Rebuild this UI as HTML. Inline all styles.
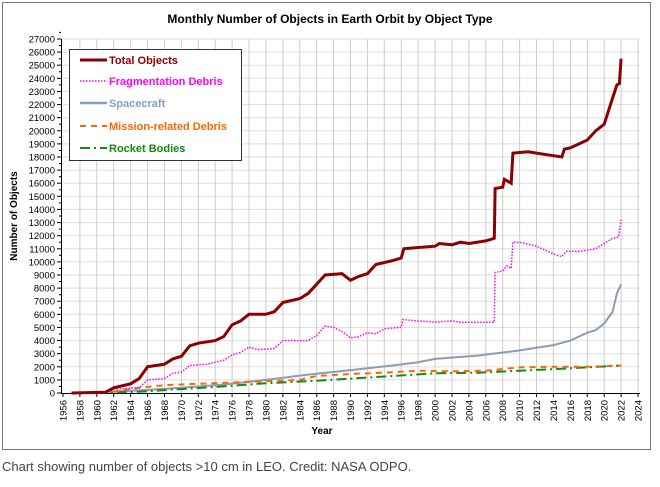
<!DOCTYPE html>
<html><head><meta charset="utf-8"><style>
body{margin:0;background:#fff;width:660px;height:482px;overflow:hidden;font-family:"Liberation Sans",Arial,sans-serif}
</style></head><body>
<svg id="s" width="660" height="482" xmlns="http://www.w3.org/2000/svg" font-family="Liberation Sans, Arial, sans-serif">
<rect x="2.5" y="2.5" width="648" height="447" fill="#fff" stroke="#777" stroke-width="1"/>
<text x="330" y="23" text-anchor="middle" font-size="12" font-weight="bold">Monthly Number of Objects in Earth Orbit by Object Type</text>
<g id="grid"></g>
<g id="series"></g>
<text x="322" y="434" text-anchor="middle" font-size="10" font-weight="bold">Year</text>
<text transform="translate(17,216) rotate(-90)" text-anchor="middle" font-size="10" font-weight="bold">Number of Objects</text>
<rect x="69.5" y="49.5" width="172" height="111" fill="#fff" stroke="#333"/>
<line x1="80" y1="60" x2="107" y2="60" stroke="#8b0000" stroke-width="3"/>
<text x="109" y="64" font-size="11" font-weight="bold" fill="#8b0000">Total Objects</text>
<line x1="80" y1="81" x2="107" y2="81" stroke="#ff00ff" stroke-width="1.5" stroke-dasharray="1.5,1.5"/>
<text x="109" y="85" font-size="11" font-weight="bold" fill="#ff00ff">Fragmentation Debris</text>
<line x1="80" y1="103" x2="107" y2="103" stroke="#8c9cb8" stroke-width="2.5"/>
<text x="109" y="107" font-size="11" font-weight="bold" fill="#8c9cb8">Spacecraft</text>
<line x1="80" y1="126" x2="107" y2="126" stroke="#ff6600" stroke-width="2" stroke-dasharray="6,5"/>
<text x="109" y="130" font-size="11" font-weight="bold" fill="#ff6600">Mission-related Debris</text>
<line x1="80" y1="148" x2="107" y2="148" stroke="#138a13" stroke-width="2" stroke-dasharray="10,4,2,4"/>
<text x="109" y="152" font-size="11" font-weight="bold" fill="#138a13">Rocket Bodies</text>
<text x="2" y="471" font-size="13" fill="#444">Chart showing number of objects &gt;10 cm in LEO. Credit: NASA ODPO.</text>
</svg>
<script>
var NS="http://www.w3.org/2000/svg";
function X(y){return 63+(y-1956)*575/68}
function Y(v){return 393-v*354/27000}
var g=document.getElementById('grid'),h='';
for(var v=0;v<=27000;v+=1000){var y=Y(v).toFixed(1);
 if(v>0)h+='<line x1="61" x2="640" y1="'+y+'" y2="'+y+'" stroke="#ddd"/>';
 h+='<line x1="57" x2="61" y1="'+y+'" y2="'+y+'" stroke="#000"/>';
 h+='<line x1="59" x2="61" y1="'+Y(v+500).toFixed(1)+'" y2="'+Y(v+500).toFixed(1)+'" stroke="#000"/>';
 h+='<text x="55" y="'+(Y(v)+3.5)+'" text-anchor="end" font-size="9.5">'+v+'</text>';}
for(var yr=1956;yr<=2024;yr+=2){var x=X(yr).toFixed(1);
 if(yr>1956)h+='<line x1="'+x+'" x2="'+x+'" y1="39" y2="393" stroke="#ccc"/>';
 h+='<line x1="'+x+'" x2="'+x+'" y1="393" y2="397" stroke="#000"/>';
 h+='<text transform="translate('+(X(yr)+3.5)+',400) rotate(-90)" text-anchor="end" font-size="9.5">'+yr+'</text>';}
h+='<line x1="61.5" x2="61.5" y1="39" y2="393" stroke="#000"/><line x1="61" x2="640" y1="393.5" y2="393.5" stroke="#000"/>';
g.innerHTML=h;
function P(d){return d.map(function(p,i){return (i?'L':'M')+X(p[0]).toFixed(1)+' '+Y(p[1]).toFixed(1)}).join(' ')}
var tot=[[1957,0],[1961,50],[1962,400],[1964,700],[1965,1100],[1966,2000],[1968,2200],[1969,2600],[1970,2800],[1971,3600],[1972,3800],[1974,4000],[1975,4300],[1976,5200],[1977,5500],[1978,6000],[1980,6000],[1981,6200],[1982,6900],[1984,7200],[1985,7600],[1986,8300],[1987,9000],[1989,9100],[1990,8600],[1991,8900],[1992,9100],[1993,9800],[1995,10100],[1996,10300],[1996.3,11000],[1998,11100],[2000,11200],[2000.5,11400],[2002,11300],[2003,11500],[2004,11400],[2006,11600],[2007,11800],[2007.1,15600],[2008,15700],[2008.2,16300],[2009,16000],[2009.2,18300],[2011,18400],[2012,18300],[2014,18100],[2015,18000],[2015.3,18600],[2016,18700],[2018,19300],[2019,20000],[2020,20500],[2020.5,21500],[2021,22500],[2021.5,23500],[2021.8,23600],[2022,25500]];
var fr=[[1961,0],[1962,300],[1965,400],[1966,1000],[1968,1100],[1969,1500],[1970,1600],[1971,2100],[1973,2200],[1975,2500],[1976,2900],[1977,3100],[1978,3500],[1979,3300],[1981,3400],[1982,4000],[1985,4000],[1986,4400],[1987,5100],[1988,5000],[1989,4700],[1990,4200],[1991,4300],[1992,4600],[1993,4500],[1994,4900],[1996,5000],[1996.2,5600],[1998,5500],[2000,5400],[2002,5500],[2003,5400],[2007,5400],[2007.1,9200],[2008,9300],[2008.5,9700],[2009,9500],[2009.2,11500],[2010,11500],[2012,11200],[2014,10600],[2015,10400],[2015.5,10800],[2017,10800],[2018,10900],[2019,11000],[2020,11400],[2021,11800],[2021.7,11900],[2022,13200]];
var sc=[[1957,0],[1960,50],[1965,200],[1970,400],[1975,650],[1980,1000],[1985,1400],[1990,1750],[1995,2100],[1998,2350],[2000,2600],[2005,2850],[2010,3250],[2014,3650],[2016,4000],[2017,4300],[2018,4600],[2019,4800],[2020,5300],[2021,6200],[2021.5,7600],[2022,8300]];
var mi=[[1958,0],[1962,100],[1965,400],[1968,600],[1972,700],[1976,800],[1980,900],[1984,1000],[1986,1300],[1990,1450],[1994,1550],[1998,1700],[2002,1650],[2006,1700],[2010,1950],[2014,2000],[2018,2000],[2022,2100]];
var rb=[[1960,0],[1965,100],[1970,300],[1975,500],[1980,750],[1985,900],[1990,1100],[1995,1300],[2000,1500],[2005,1550],[2010,1700],[2015,1850],[2022,2100]];
document.getElementById('series').innerHTML=
'<path d="'+P(sc)+'" fill="none" stroke="#8c9cb8" stroke-width="2"/>'+
'<path d="'+P(rb)+'" fill="none" stroke="#138a13" stroke-width="2" stroke-dasharray="10,4,2,4"/>'+
'<path d="'+P(mi)+'" fill="none" stroke="#ff6600" stroke-width="2" stroke-dasharray="6,5"/>'+
'<path d="'+P(fr)+'" fill="none" stroke="#ff00ff" stroke-width="1.5" stroke-dasharray="1.5,1.5"/>'+
'<path d="'+P(tot)+'" fill="none" stroke="#8b0000" stroke-width="3"/>';
</script>
</body></html>
